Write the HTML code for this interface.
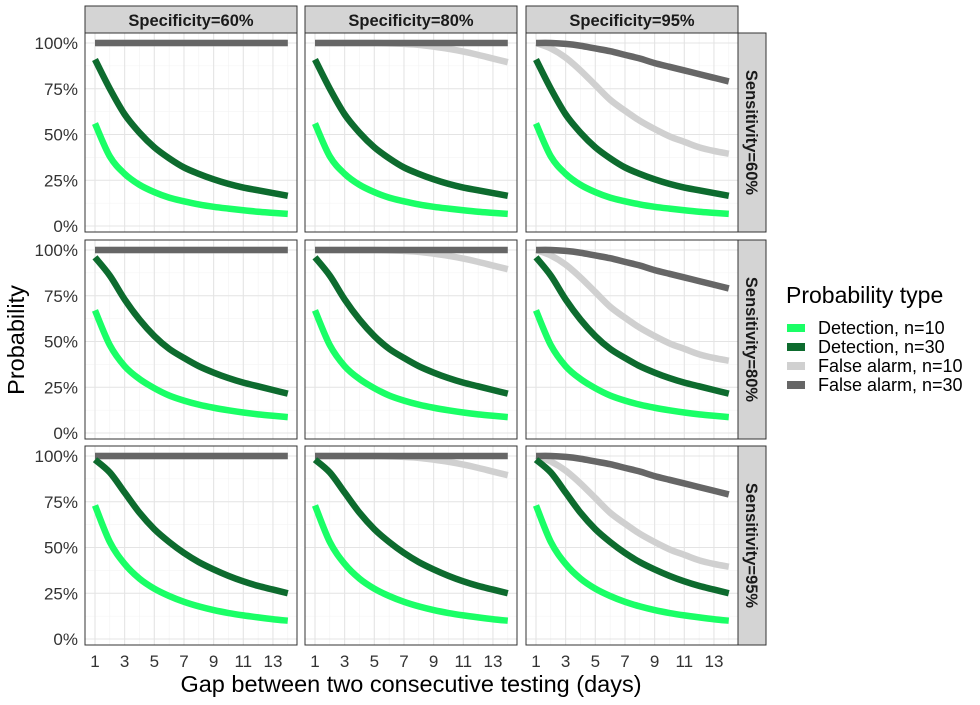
<!DOCTYPE html>
<html><head><meta charset="utf-8"><style>
body{margin:0;background:#fff;font-family:"Liberation Sans",Arial,sans-serif}
svg text{font-family:"Liberation Sans",Arial,sans-serif}
</style></head><body>
<svg id="chart" width="980" height="700" xmlns="http://www.w3.org/2000/svg"></svg>
<script>
const days=[1,2,3,4,5,6,7,8,9,10,11,12,13,14];
const specLabels=["Specificity=60%","Specificity=80%","Specificity=95%"];
const sensLabels=["Sensitivity=60%","Sensitivity=80%","Sensitivity=95%"];
const yTicks=[0,0.25,0.5,0.75,1];
const yTickLabels=["0%","25%","50%","75%","100%"];
const xTicks=[1,3,5,7,9,11,13];
// detection by sensitivity row
const det10=[
[.56,.38,.285,.225,.185,.155,.135,.118,.105,.095,.086,.078,.072,.066],
[.67,.48,.365,.295,.245,.205,.177,.155,.138,.124,.112,.102,.094,.087],
[.73,.53,.41,.33,.275,.235,.203,.178,.158,.142,.129,.118,.108,.10]];
const det30=[
[.91,.75,.61,.51,.43,.37,.32,.285,.255,.23,.21,.195,.18,.165],
[.96,.86,.73,.62,.53,.46,.41,.365,.33,.30,.275,.255,.235,.215],
[.98,.91,.80,.69,.60,.53,.47,.42,.38,.345,.315,.29,.27,.25]];
// false alarm by specificity column
const fa10=[
[1,1,1,1,1,1,1,1,1,1,1,1,1,1],
[1,1,1,1,1,.998,.995,.99,.98,.968,.953,.935,.915,.895],
[1,.97,.92,.85,.77,.69,.63,.575,.53,.49,.46,.43,.41,.395]];
const fa30=[
[1,1,1,1,1,1,1,1,1,1,1,1,1,1],
[1,1,1,1,1,1,1,1,1,1,1,1,1,1],
[1,1,.995,.985,.97,.955,.935,.915,.89,.87,.85,.83,.81,.79]];
const seriesNames=["Detection, n=10","Detection, n=30","False alarm, n=10","False alarm, n=30"];
const colors=["#1aff66","#0d6b2e","#d0d0d0","#666666"];

const NS="http://www.w3.org/2000/svg";
const svg=document.getElementById('chart');
function mk(t,a,p){const e=document.createElementNS(NS,t);for(const k in a)e.setAttribute(k,a[k]);(p||svg).appendChild(e);return e;}
const colX=[85,305,526],panelW=212,rowY=[33,240,446],panelH=199;
function xs(c,d){return colX[c]+10+(d-1)*14.83;}
function ys(r,v){return rowY[r]+10+(1-v)*183;}
function smooth(pts){
  let d='M'+pts[0][0]+','+pts[0][1];
  for(let i=0;i<pts.length-1;i++){
    const p0=pts[Math.max(0,i-1)],p1=pts[i],p2=pts[i+1],p3=pts[Math.min(pts.length-1,i+2)];
    const c1=[p1[0]+(p2[0]-p0[0])/6,p1[1]+(p2[1]-p0[1])/6];
    const c2=[p2[0]-(p3[0]-p1[0])/6,p2[1]-(p3[1]-p1[1])/6];
    d+=` C${c1[0]},${c1[1]} ${c2[0]},${c2[1]} ${p2[0]},${p2[1]}`;
  }
  return d;
}

for(let c=0;c<3;c++){
  const st=mk('rect',{x:colX[c],y:6,width:panelW,height:27,fill:'#d4d4d4',stroke:'#333','stroke-width':1});
  
  const tt=mk('text',{x:colX[c]+panelW/2,y:26,'text-anchor':'middle','font-size':16.5,'font-weight':'bold',fill:'#1a1a1a'});
  tt.textContent=specLabels[c];
  
}
for(let r=0;r<3;r++){
  const st=mk('rect',{x:738,y:rowY[r],width:28,height:panelH,fill:'#d4d4d4',stroke:'#333','stroke-width':1});
  
  const cy=rowY[r]+panelH/2;
  const tt=mk('text',{x:746,y:cy,'text-anchor':'middle','font-size':16.5,'font-weight':'bold',fill:'#1a1a1a',transform:`rotate(90 746 ${cy})`});
  tt.textContent=sensLabels[r];
  
  yTicks.forEach((v,i)=>{
    const t=mk('text',{x:78,y:ys(r,v)+6,'text-anchor':'end','font-size':17,fill:'#333'});
    t.textContent=yTickLabels[i];
    
  });
  for(let c=0;c<3;c++){
    const g=mk('g',{});
    
    mk('rect',{x:colX[c],y:rowY[r],width:panelW,height:panelH,fill:'#fff'},g);
    for(let d=2;d<=14;d+=2) mk('line',{x1:xs(c,d),x2:xs(c,d),y1:rowY[r],y2:rowY[r]+panelH,stroke:'#f2f2f2','stroke-width':0.6},g);
    for(let v=0.125;v<1;v+=0.25) mk('line',{x1:colX[c],x2:colX[c]+panelW,y1:ys(r,v),y2:ys(r,v),stroke:'#f2f2f2','stroke-width':0.6},g);
    xTicks.forEach(d=>mk('line',{x1:xs(c,d),x2:xs(c,d),y1:rowY[r],y2:rowY[r]+panelH,stroke:'#e4e4e4','stroke-width':1.1},g));
    yTicks.forEach(v=>mk('line',{x1:colX[c],x2:colX[c]+panelW,y1:ys(r,v),y2:ys(r,v),stroke:'#e4e4e4','stroke-width':1.1},g));
    const sets=[fa10[c],fa30[c],det30[r],det10[r]];
    const cols=[colors[2],colors[3],colors[1],colors[0]];
    const names=['line-false-alarm-n10','line-false-alarm-n30','line-detection-n30','line-detection-n10'];
    sets.forEach((vals,k)=>{
      const p=mk('path',{d:smooth(days.map((d,i)=>[xs(c,d),ys(r,vals[i])])),fill:'none',stroke:cols[k],'stroke-width':6.5,'stroke-linejoin':'round'},g);
      
    });
    mk('rect',{x:colX[c],y:rowY[r],width:panelW,height:panelH,fill:'none',stroke:'#333','stroke-width':1},g);
  }
}
for(let c=0;c<3;c++){
  xTicks.forEach(d=>{
    const t=mk('text',{x:xs(c,d),y:667,'text-anchor':'middle','font-size':17,fill:'#333'});
    t.textContent=d;
    
  });
}
let t=mk('text',{x:411,y:692,'text-anchor':'middle','font-size':23.5,fill:'#000'});
t.textContent='Gap between two consecutive testing (days)';

t=mk('text',{x:24,y:340,'text-anchor':'middle','font-size':23.5,fill:'#000',transform:'rotate(-90 24 340)'});
t.textContent='Probability';

t=mk('text',{x:786,y:303,'font-size':23,fill:'#000'});
t.textContent='Probability type';

seriesNames.forEach((n,i)=>{
  const y=328+i*19;
  const r=mk('rect',{x:787,y:y-4,width:18,height:8,fill:colors[i]});
  
  const tx=mk('text',{x:818,y:y+6,'font-size':18,fill:'#000'});
  tx.textContent=n;
  
});
</script>
</body></html>
